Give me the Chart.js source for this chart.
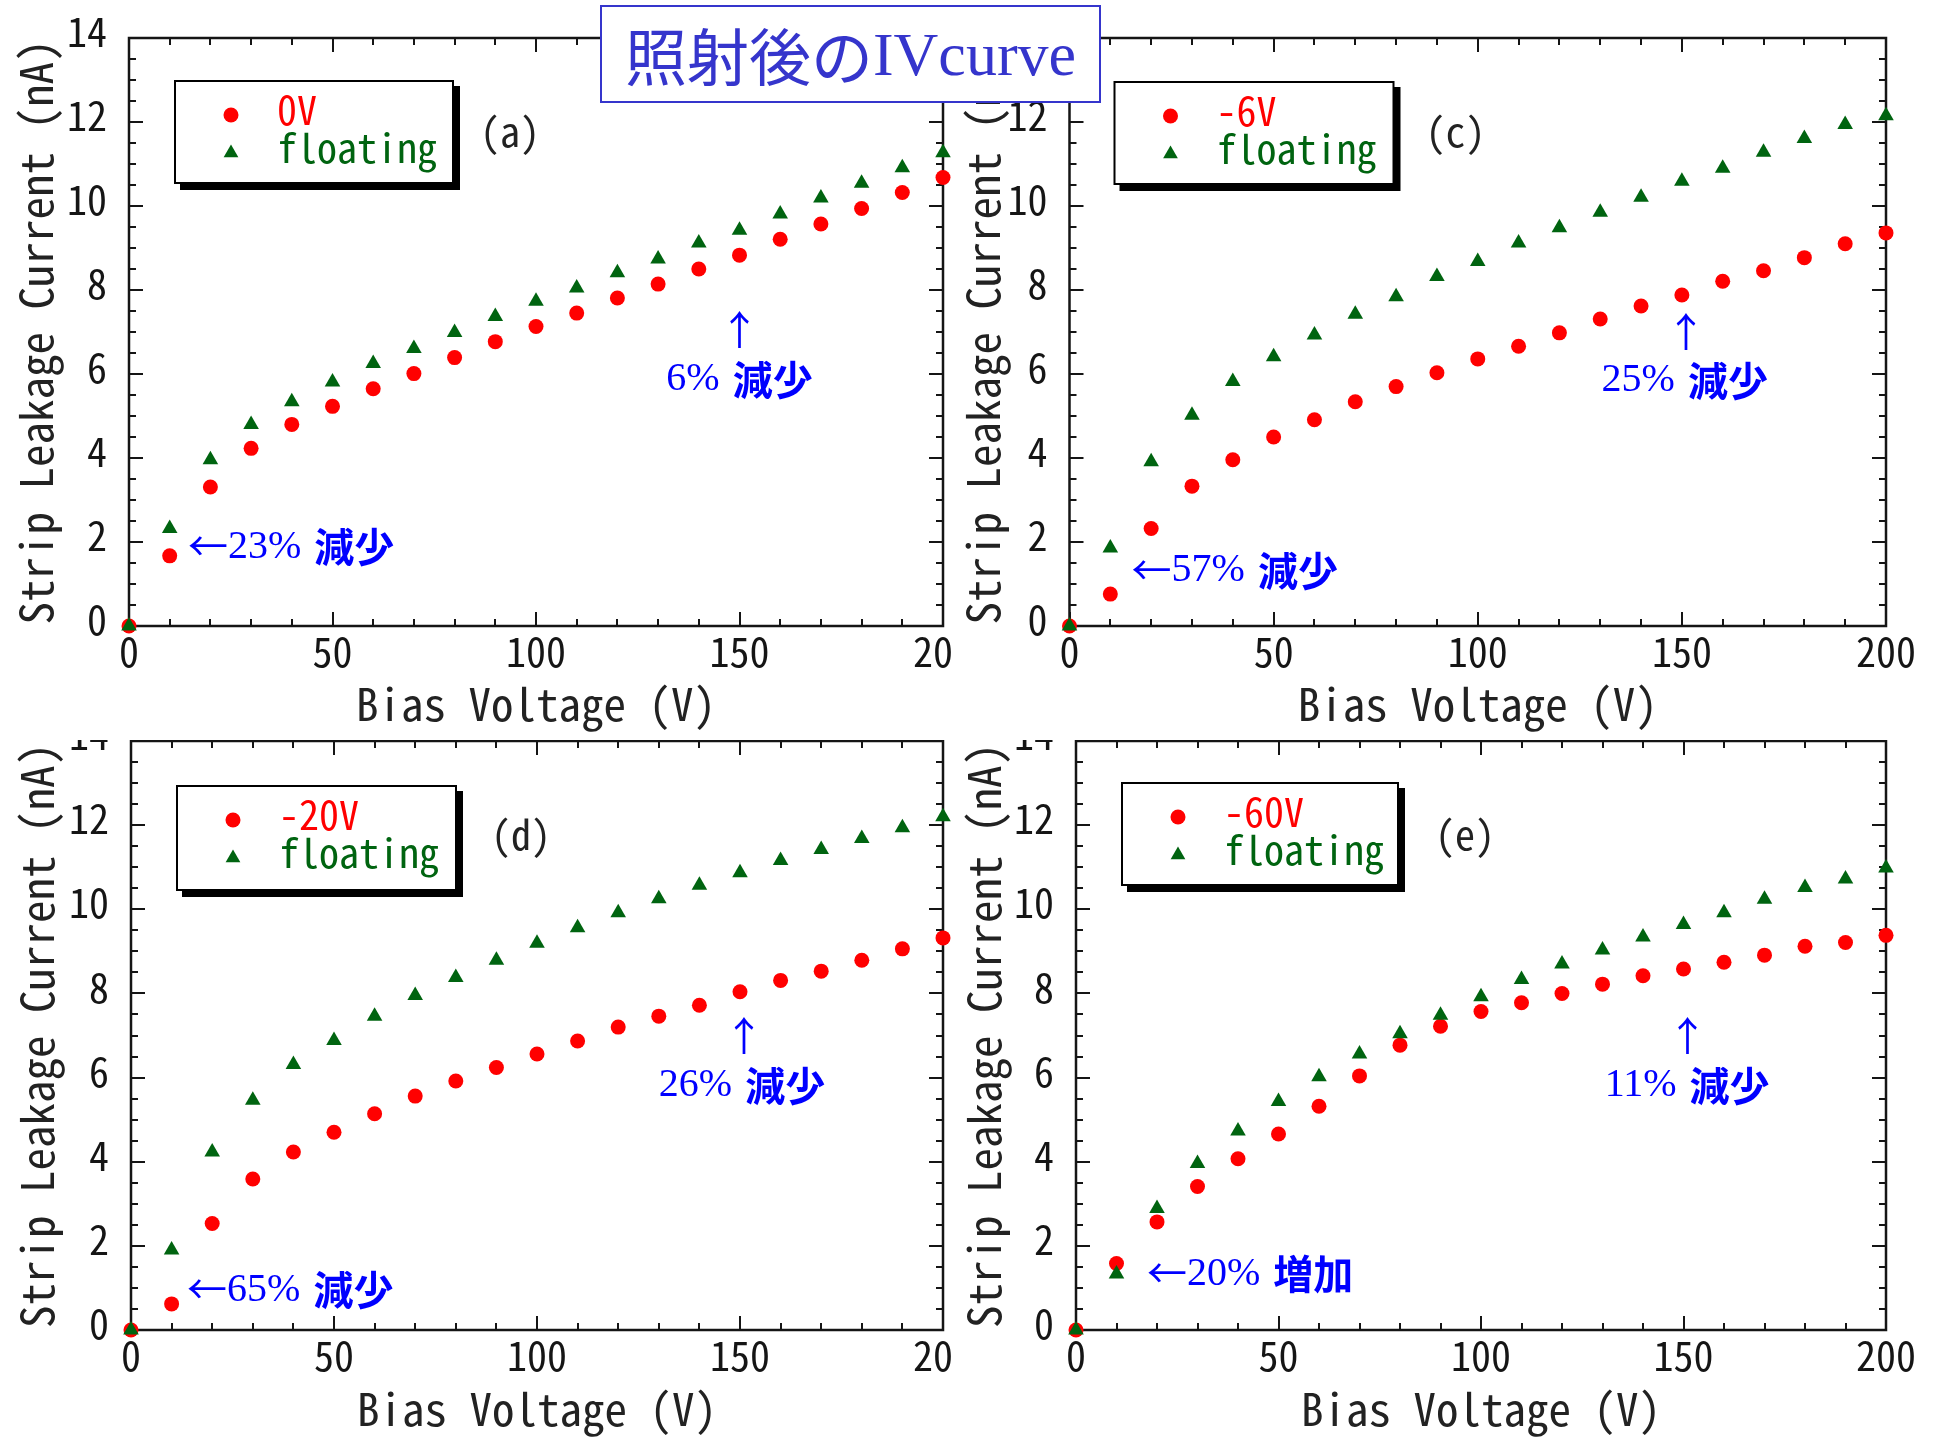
<!DOCTYPE html>
<html><head><meta charset="utf-8">
<script src="https://cdn.jsdelivr.net/npm/chart.js@4.4.0/dist/chart.umd.min.js"></script>
<style>
html,body{margin:0;padding:0;background:#fff;}
body{width:1933px;height:1438px;position:relative;overflow:hidden;}
canvas{position:absolute;display:block;}
#title{position:absolute;left:600px;top:5px;width:497px;height:94px;border:2px solid #3535cc;background:#fff;color:#3535cc;font-size:62px;display:flex;align-items:center;justify-content:center;white-space:nowrap;z-index:5;line-height:1;}
#title .jp{font-family:"Noto Sans CJK JP";}
#title .en{font-family:"Liberation Serif","Times New Roman",serif;}
</style></head><body>
<canvas id="ca" width="953" height="740" style="left:0;top:0"></canvas>
<canvas id="cc" width="980" height="740" style="left:953px;top:0"></canvas>
<canvas id="cd" width="953" height="698" style="left:0;top:740px"></canvas>
<canvas id="ce" width="980" height="698" style="left:953px;top:740px"></canvas>
<div id="title"><span class="jp">照射後の</span><span class="en">IVcurve</span></div>
<script>
// ---------------- data ----------------
const biasVoltage = [0,10,20,30,40,50,60,70,80,90,100,110,120,130,140,150,160,170,180,190,200];

const panelLabels = ['(a)', '(c)', '(d)', '(e)'];
const appliedLabels = ['0V', '-6V', '-20V', '-60V'];
const floatingLabel = 'floating';

const currentA_applied  = [0,1.67,3.31,4.23,4.80,5.23,5.65,6.01,6.39,6.77,7.13,7.45,7.81,8.14,8.50,8.83,9.21,9.57,9.94,10.32,10.68];
const currentA_floating = [0,2.32,3.96,4.80,5.34,5.81,6.25,6.61,6.99,7.37,7.73,8.05,8.41,8.74,9.12,9.42,9.81,10.19,10.54,10.91,11.27];

const currentC_applied  = [0,0.76,2.32,3.33,3.96,4.50,4.91,5.34,5.70,6.03,6.36,6.66,6.98,7.31,7.62,7.88,8.21,8.46,8.77,9.10,9.36];
const currentC_floating = [0,1.86,3.91,5.02,5.82,6.41,6.93,7.42,7.84,8.32,8.68,9.12,9.48,9.85,10.21,10.59,10.90,11.28,11.61,11.94,12.15];

const currentD_applied  = [0,0.62,2.53,3.59,4.23,4.70,5.14,5.56,5.92,6.24,6.56,6.87,7.20,7.46,7.72,8.04,8.31,8.53,8.79,9.06,9.32];
const currentD_floating = [0,1.90,4.23,5.46,6.31,6.88,7.46,7.95,8.38,8.79,9.19,9.56,9.92,10.25,10.57,10.87,11.16,11.42,11.68,11.94,12.20];

const currentE_applied  = [0,1.58,2.57,3.41,4.07,4.66,5.32,6.04,6.77,7.22,7.57,7.78,8.00,8.22,8.42,8.58,8.74,8.91,9.12,9.21,9.38];
const currentE_floating = [0,1.33,2.89,3.96,4.73,5.43,6.02,6.56,7.04,7.48,7.92,8.33,8.70,9.03,9.34,9.64,9.92,10.24,10.52,10.72,10.98];

// annotation texts
const lowPct   = ['23%', '57%', '65%', '20%'];
const lowWord  = ['減少', '減少', '減少', '増加'];
const highPct  = ['6%', '25%', '26%', '11%'];
const highWord = ['減少', '減少', '減少', '減少'];
// annotation anchors in data units [V, nA]
const lowAnchor  = [[15.0,1.88],[15.7,1.31],[14.3,0.95],[18.0,1.33]];
const highArrow  = [[150,7.05],[151,7.0],[151,6.99],[151,7.0]];
const highText   = [[150,5.86],[150.7,5.85],[150.5,5.8],[150.9,5.8]];

const xTitle = 'Bias Voltage (V)';
const yTitle = 'Strip Leakage Current (nA)';

// ---------------- styling ----------------
const MONO = '"Noto Sans Mono CJK JP","Liberation Mono",monospace';
const SERIF = '"Liberation Serif","Times New Roman",serif';
const CJK = '"Noto Sans CJK JP",sans-serif';
const RED = '#ff0000';
const GREEN = '#006410';
const BLUE = '#0000ff';
const AXIS = '#151515';

const decoPlugin = {
  id: 'deco',
  beforeDatasetsDraw(chart, args, o) {
    const {ctx, chartArea: a, scales: {x, y}} = chart;
    ctx.save();
    ctx.strokeStyle = AXIS;
    ctx.lineWidth = 2.5;
    ctx.strokeRect(a.left, a.top, a.right - a.left, a.bottom - a.top);
    ctx.lineWidth = 2;
    ctx.beginPath();
    for (let v = x.min; v <= x.max + 1e-9; v += o.xMinor) {
      const p = Math.round(x.getPixelForValue(v));
      const len = (Math.abs(v % o.xMajor) < 1e-6) ? 14 : 7;
      ctx.moveTo(p, a.bottom); ctx.lineTo(p, a.bottom - len);
      ctx.moveTo(p, a.top); ctx.lineTo(p, a.top + len);
    }
    for (let v = y.min; v <= y.max + 1e-9; v += o.yMinor) {
      const p = Math.round(y.getPixelForValue(v));
      const len = (Math.abs(v % o.yMajor) < 1e-6) ? 14 : 7;
      ctx.moveTo(a.left, p); ctx.lineTo(a.left + len, p);
      ctx.moveTo(a.right, p); ctx.lineTo(a.right - len, p);
    }
    ctx.stroke();
    ctx.restore();
  },
  afterDatasetsDraw(chart, args, o) {
    const {ctx, chartArea: a, scales: {x, y}} = chart;
    const ds = chart.data.datasets;
    ctx.save();
    // legend box
    const bx = a.left + o.legend[0], by = a.top + o.legend[1], bw = o.legend[2], bh = o.legend[3];
    ctx.fillStyle = '#000';
    ctx.fillRect(bx + 5, by + 5, bw + 2, bh + 2);
    ctx.fillStyle = '#fff';
    ctx.fillRect(bx, by, bw, bh);
    ctx.strokeStyle = '#000';
    ctx.lineWidth = 2;
    ctx.strokeRect(bx, by, bw, bh);
    const rows = [by + 34, by + 72];
    ds.forEach((d, i) => {
      const mx = bx + 56, my = rows[i];
      ctx.fillStyle = d.backgroundColor;
      ctx.beginPath();
      if (d.pointStyle === 'triangle') {
        const r = 8.5;
        ctx.moveTo(mx, my - r);
        ctx.lineTo(mx + r * 0.866, my + r * 0.5);
        ctx.lineTo(mx - r * 0.866, my + r * 0.5);
        ctx.closePath();
      } else {
        ctx.arc(mx, my, 7.5, 0, Math.PI * 2);
      }
      ctx.fill();
      ctx.font = '40px ' + MONO;
      ctx.textBaseline = 'middle';
      ctx.textAlign = 'left';
      ctx.fillText(d.label, bx + 102, my - 5);
    });
    // panel label
    ctx.fillStyle = '#222';
    ctx.font = '40px ' + MONO;
    ctx.textBaseline = 'middle';
    ctx.fillText(o.panel, a.left + o.panelX, a.top + 94);
    // annotations
    ctx.fillStyle = BLUE;
    ctx.textBaseline = 'middle';
    ctx.textAlign = 'left';
    const lx = x.getPixelForValue(o.low[0]), ly = y.getPixelForValue(o.low[1]);
    ctx.font = '40px ' + CJK;
    ctx.fillText('←', lx - 2, ly - 1);
    const wa = 38;
    ctx.font = '40px ' + SERIF;
    ctx.fillText(o.lowPct, lx + wa, ly);
    const w1 = ctx.measureText(o.lowPct).width;
    ctx.font = 'bold 40px ' + CJK;
    ctx.fillText(o.lowWord, lx + wa + w1 + 13, ly);
    // high arrow
    ctx.font = '40px ' + CJK;
    ctx.textAlign = 'center';
    ctx.fillText('↑', x.getPixelForValue(o.arrow[0]), y.getPixelForValue(o.arrow[1]));
    // high text
    ctx.textAlign = 'left';
    const hx = x.getPixelForValue(o.high[0]), hy = y.getPixelForValue(o.high[1]);
    ctx.font = '40px ' + SERIF;
    const w2 = ctx.measureText(o.highPct).width;
    ctx.font = 'bold 40px ' + CJK;
    const w3 = ctx.measureText(o.highWord).width;
    const start = hx - (w2 + 13 + w3) / 2;
    ctx.font = '40px ' + SERIF;
    ctx.fillText(o.highPct, start, hy);
    ctx.font = 'bold 40px ' + CJK;
    ctx.fillText(o.highWord, start + w2 + 13, hy);
    ctx.restore();
  }
};

function makeChart(id, idx, applied, floating, geo) {
  const ctx = document.getElementById(id).getContext('2d');
  return new Chart(ctx, {
    type: 'scatter',
    data: {
      datasets: [
        { label: appliedLabels[idx], data: biasVoltage.map((v, i) => ({x: v, y: applied[i]})), order: 2,
          pointStyle: 'circle', pointRadius: 7.5, backgroundColor: RED, borderColor: RED, borderWidth: 0, clip: false },
        { label: floatingLabel, data: biasVoltage.map((v, i) => ({x: v, y: floating[i]})), order: 1,
          pointStyle: 'triangle', pointRadius: 9, backgroundColor: GREEN, borderColor: GREEN, borderWidth: 0, clip: false }
      ]
    },
    options: {
      responsive: false,
      animation: false,
      events: [],
      layout: { autoPadding: false, padding: { left: 0, top: geo.top, right: geo.right, bottom: 0 } },
      plugins: {
        legend: { display: false },
        tooltip: { enabled: false },
        deco: {
          xMinor: 10, xMajor: 50, yMinor: 0.5, yMajor: 2,
          legend: geo.legend, panel: panelLabels[idx], panelX: geo.panelX,
          low: lowAnchor[idx], lowPct: lowPct[idx], lowWord: lowWord[idx],
          arrow: highArrow[idx], high: highText[idx], highPct: highPct[idx], highWord: highWord[idx]
        }
      },
      scales: {
        x: {
          type: 'linear', min: 0, max: 200,
          grid: { display: false, drawTicks: false },
          border: { display: false },
          ticks: { stepSize: 50, padding: 2, color: AXIS, font: { family: MONO, size: 40 }, maxRotation: 0, autoSkip: false },
          title: { display: true, text: xTitle, color: '#222', font: { family: MONO, size: 45 }, padding: { top: 0, bottom: geo.xTitlePad } },
          afterFit(s) { s.height = geo.xH; s.paddingLeft = 0; s.paddingRight = 0; }
        },
        y: {
          type: 'linear', min: 0, max: 14,
          grid: { display: false, drawTicks: false },
          border: { display: false },
          ticks: { stepSize: 2, padding: 22, labelOffset: -6, color: AXIS, font: { family: MONO, size: 40 } },
          title: { display: true, text: yTitle, color: '#222', font: { family: MONO, size: 45 }, padding: { top: geo.yTitlePad, bottom: 0 } },
          afterFit(s) { s.width = geo.yW; s.paddingTop = 0; s.paddingBottom = 0; }
        }
      }
    },
    plugins: [decoPlugin]
  });
}

makeChart('ca', 0, currentA_applied, currentA_floating,
  { top: 38, right: 10, xH: 114, yW: 129, xTitlePad: 9, yTitlePad: 9, legend: [46, 43, 278, 102], panelX: 351 });
makeChart('cc', 1, currentC_applied, currentC_floating,
  { top: 38, right: 47, xH: 114, yW: 116.5, xTitlePad: 9, yTitlePad: 3, legend: [45, 44, 279, 102], panelX: 356 });
makeChart('cd', 2, currentD_applied, currentD_floating,
  { top: 1, right: 10, xH: 108, yW: 131, xTitlePad: 2, yTitlePad: 10, legend: [46, 45, 279, 104], panelX: 360 });
makeChart('ce', 3, currentE_applied, currentE_floating,
  { top: 1, right: 47, xH: 108, yW: 123, xTitlePad: 2, yTitlePad: 4, legend: [46, 42, 276, 102], panelX: 359 });
</script>
</body></html>
